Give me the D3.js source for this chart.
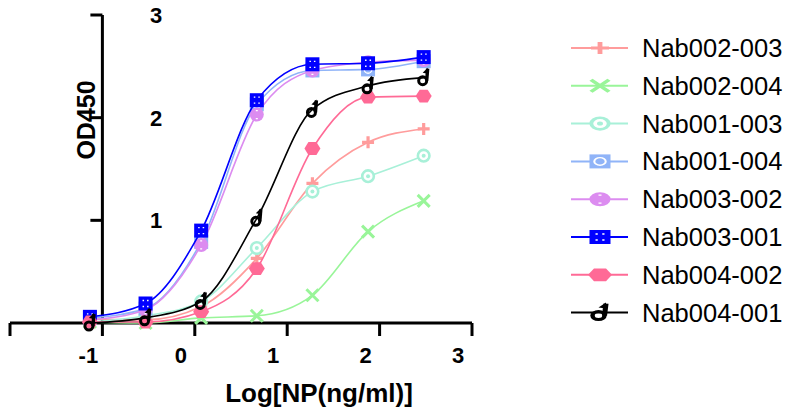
<!DOCTYPE html>
<html>
<head>
<meta charset="utf-8">
<script src="https://cdn.jsdelivr.net/npm/d3@7"></script>
<style>
    body { margin: 0; background: #fff; }
    svg { display: block; font-family: "Liberation Sans", Arial, sans-serif; }
</style>
</head>
<body>
<svg id="chart"></svg>
<script>
// log10 of a 4-fold dilution series, 300 ng/ml down
const logConc = [-1.135, -0.533, 0.069, 0.671, 1.273, 1.875, 2.477];

const xTicks = [-2, -1, 0, 1, 2, 3];
const xTickLabels = ["", "-1", "0", "1", "2", "3"];
const yTicks = [1, 2, 3];
const yTickLabels = ["1", "2", "3"];

const seriesNames = ["Nab002-003", "Nab002-004", "Nab001-003", "Nab001-004",
    "Nab003-002", "Nab003-001", "Nab004-002", "Nab004-001"];
const seriesColors = ["#ff9c9c", "#99f599", "#a8f0d8", "#90b4f8",
    "#dc8cf0", "#0000ff", "#ff6a96", "#000000"];
const seriesMarkers = ["plus", "cross", "ring", "squareRing",
    "dotCircle", "square", "hexagon", "flag"];

const nab002_003 = [0.04, 0.03, 0.16, 0.63, 1.36, 1.76, 1.89];
const nab002_004 = [0.01, 0.00, 0.05, 0.07, 0.27, 0.89, 1.19];
const nab001_003 = [0.01, 0.07, 0.21, 0.73, 1.28, 1.43, 1.63];
const nab001_004 = [0.05, 0.14, 0.79, 2.13, 2.46, 2.47, 2.55];
const nab003_002 = [0.03, 0.13, 0.76, 2.03, 2.46, 2.54, 2.56];
const nab003_001 = [0.06, 0.19, 0.90, 2.17, 2.52, 2.53, 2.59];
const nab004_002 = [0.01, 0.01, 0.11, 0.53, 1.70, 2.20, 2.21];
const nab004_001 = [0.00, 0.05, 0.21, 1.02, 2.08, 2.31, 2.39];

const seriesValues = [nab002_003, nab002_004, nab001_003, nab001_004,
    nab003_002, nab003_001, nab004_002, nab004_001];

let doseChart = function (options) {
    let self = {};
    for (let key in options) {
        self[key] = options[key];
    }

    self.svg = d3.select("#" + self.parent_id)
        .attr("width", self.width)
        .attr("height", self.height);

    self.x = d3.scaleLinear().domain([-2, 3]).range([10, 472]);
    self.y = d3.scaleLinear().domain([0, 3]).range([323, 15]);

    // draw one marker shape centred at 0,0
    self.marker = function (g, type, color) {
        if (type === "plus") {
            g.append("path").attr("d", "M-6,0H6M0,-6V6")
                .attr("stroke", color).attr("stroke-width", 3.2).attr("fill", "none");
        } else if (type === "cross") {
            g.append("path").attr("d", "M-6,-6L6,6M-6,6L6,-6")
                .attr("stroke", color).attr("stroke-width", 3).attr("fill", "none");
        } else if (type === "ring") {
            g.append("circle").attr("r", 5.8)
                .attr("stroke", color).attr("stroke-width", 2.6).attr("fill", "#fff");
            g.append("circle").attr("r", 2).attr("fill", color);
        } else if (type === "squareRing") {
            g.append("rect").attr("x", -7).attr("y", -7).attr("width", 14).attr("height", 14)
                .attr("fill", color);
            g.append("circle").attr("r", 3.8)
                .attr("stroke", "#fff").attr("stroke-width", 1.4).attr("fill", color);
        } else if (type === "dotCircle") {
            g.append("circle").attr("r", 7).attr("fill", color);
            g.append("path").attr("d", "M-1,-4h2M-1,4h2")
                .attr("stroke", "#fff").attr("stroke-width", 1.3);
        } else if (type === "square") {
            g.append("rect").attr("x", -7).attr("y", -7).attr("width", 14).attr("height", 14)
                .attr("fill", color);
            g.append("path").attr("d", "M-3,-3h1.5M1.5,-3h1.5M-3,3h1.5M1.5,3h1.5")
                .attr("stroke", "#fff").attr("stroke-width", 1.3);
        } else if (type === "hexagon") {
            let pts = d3.range(6).map(function (i) {
                let a = Math.PI / 3 * i;
                return [8 * Math.cos(a), 7.4 * Math.sin(a)];
            });
            g.append("path").attr("d", "M" + pts.join("L") + "Z").attr("fill", color);
        } else if (type === "flag") {
            g.append("circle").attr("cx", -1).attr("cy", 3).attr("r", 4)
                .attr("stroke", color).attr("stroke-width", 3).attr("fill", "none");
            g.append("path").attr("d", "M3,3L4,-9")
                .attr("stroke", color).attr("stroke-width", 3.4);
            g.append("path").attr("d", "M4,-10L-1,-5L4,-4Z").attr("fill", color);
        }
    };

    self.renderAxes = function () {
        let axes = self.svg.append("g");

        axes.append("line")
            .attr("x1", self.x(-2)).attr("x2", self.x(3))
            .attr("y1", self.y(0)).attr("y2", self.y(0))
            .attr("stroke", "#000").attr("stroke-width", 3);
        axes.selectAll(".xtick").data(xTicks).enter().append("line")
            .attr("x1", function (d) { return self.x(d); })
            .attr("x2", function (d) { return self.x(d); })
            .attr("y1", self.y(0)).attr("y2", self.y(0) + 13)
            .attr("stroke", "#000").attr("stroke-width", 3);
        axes.selectAll(".xlabel").data(xTicks).enter().append("text")
            .text(function (d, i) { return xTickLabels[i]; })
            .attr("x", function (d) { return self.x(d) - 14; })
            .attr("y", 363)
            .attr("font-size", "22px").attr("font-weight", "bold")
            .style("text-anchor", "middle");

        axes.append("line")
            .attr("x1", self.x(-1)).attr("x2", self.x(-1))
            .attr("y1", self.y(3)).attr("y2", self.y(0))
            .attr("stroke", "#000").attr("stroke-width", 3);
        axes.selectAll(".ytick").data(yTicks).enter().append("line")
            .attr("x1", self.x(-1) - 12).attr("x2", self.x(-1))
            .attr("y1", function (d) { return self.y(d); })
            .attr("y2", function (d) { return self.y(d); })
            .attr("stroke", "#000").attr("stroke-width", 3);
        axes.selectAll(".ylabel").data(yTicks).enter().append("text")
            .text(function (d, i) { return yTickLabels[i]; })
            .attr("x", 156)
            .attr("y", function (d) { return self.y(d) + 8; })
            .attr("font-size", "22px").attr("font-weight", "bold")
            .style("text-anchor", "middle");

        axes.append("text")
            .text("Log[NP(ng/ml)]")
            .attr("x", 319).attr("y", 402)
            .attr("font-size", "26px").attr("font-weight", "bold")
            .style("text-anchor", "middle");
        axes.append("text")
            .text("OD450")
            .attr("transform", "translate(95,120) rotate(-90)")
            .attr("font-size", "25px").attr("font-weight", "bold")
            .style("text-anchor", "middle");
    };

    self.renderSeries = function () {
        let line = d3.line()
            .x(function (d) { return self.x(d[0]); })
            .y(function (d) { return self.y(d[1]); })
            .curve(d3.curveMonotoneX);

        seriesValues.forEach(function (vals, s) {
            let pts = logConc.map(function (c, i) { return [c, vals[i]]; });
            let g = self.svg.append("g");
            g.append("path")
                .datum(pts)
                .attr("d", line)
                .attr("fill", "none")
                .attr("stroke", seriesColors[s])
                .attr("stroke-width", 1.6);
            pts.forEach(function (p) {
                let m = g.append("g")
                    .attr("transform", "translate(" + self.x(p[0]) + "," + self.y(p[1]) + ")");
                self.marker(m, seriesMarkers[s], seriesColors[s]);
            });
        });
    };

    self.renderLegend = function () {
        let legend = self.svg.append("g");
        seriesNames.forEach(function (name, i) {
            let yy = 48 + i * 37.8;
            legend.append("line")
                .attr("x1", 571).attr("x2", 628)
                .attr("y1", yy).attr("y2", yy)
                .attr("stroke", seriesColors[i]).attr("stroke-width", 2);
            let m = legend.append("g")
                .attr("transform", "translate(600," + yy + ") scale(1.5,1)");
            self.marker(m, seriesMarkers[i], seriesColors[i]);
            legend.append("text")
                .text(name)
                .attr("x", 642).attr("y", yy + 9)
                .attr("font-size", "25.5px")
                .attr("fill", "#000");
        });
    };

    self.renderAxes();
    self.renderSeries();
    self.renderLegend();
    return self;
};

doseChart({ parent_id: "chart", width: 790, height: 413 });
</script>
</body>
</html>
